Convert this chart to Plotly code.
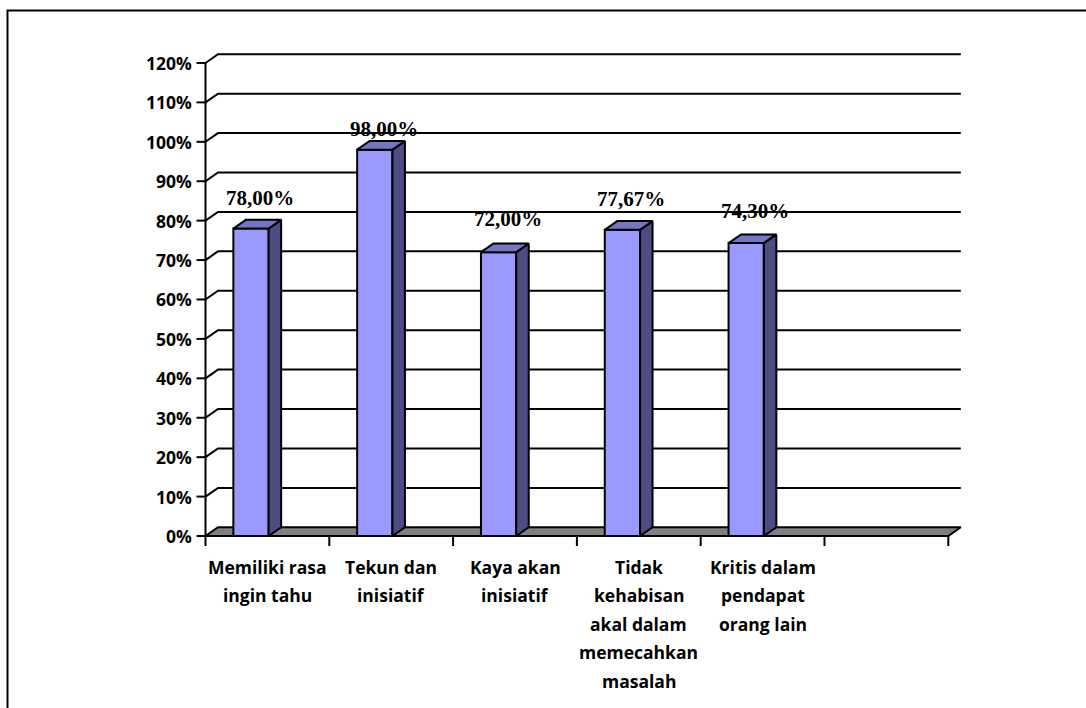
import plotly.graph_objects as go

# ---- data -------------------------------------------------------------
categories = [
    ["Memiliki rasa", "ingin tahu"],
    ["Tekun dan", "inisiatif"],
    ["Kaya akan", "inisiatif"],
    ["Tidak", "kehabisan", "akal dalam", "memecahkan", "masalah"],
    ["Kritis dalam", "pendapat", "orang lain"],
]
values = [78.00, 98.00, 72.00, 77.67, 74.30]
value_labels = ["78,00%", "98,00%", "72,00%", "77,67%", "74,30%"]
y_ticks = [0, 10, 20, 30, 40, 50, 60, 70, 80, 90, 100, 110, 120]
y_tick_labels = [f"{t}%" for t in y_ticks]
n_slots = 6  # category slots on the axis (last one is empty)

# ---- geometry of the pseudo-3D frame (axis units) --------------------
W, H = 1086, 708
ORIGIN_X, ORIGIN_Y = 205.5, 536.0      # front origin, pixels
SLOT_PX, PCT_PX = 123.8, 3.942         # pixels per category / per percent
DX = 12.5 / SLOT_PX                    # depth offset along x
DY = 8.7 / PCT_PX                      # depth offset along y
BAR_L, BAR_R = 0.225, 0.51             # front face extent inside a slot
TICK_X = 9.0 / SLOT_PX
TICK_Y = 10.0 / PCT_PX

x_range = [(0 - ORIGIN_X) / SLOT_PX, (W - ORIGIN_X) / SLOT_PX]
y_range = [(ORIGIN_Y - H) / PCT_PX, ORIGIN_Y / PCT_PX]

FRONT = "#9999FF"
TOP = "#7575C6"
SIDE = "#4D4D84"
FLOOR = "#808080"
INK = "black"
SANS = "Open Sans"

fig = go.Figure()


def line_trace(xs, ys, width=2):
    fig.add_trace(go.Scatter(x=xs, y=ys, mode="lines",
                             line=dict(color=INK, width=width),
                             hoverinfo="skip", showlegend=False))


def poly_trace(xs, ys, color):
    fig.add_trace(go.Scatter(x=xs, y=ys, mode="lines", fill="toself",
                             fillcolor=color, line=dict(color=INK, width=2),
                             hoverinfo="skip", showlegend=False))


# gridlines along the side wall and the back wall
gx, gy = [], []
for t in y_ticks[1:]:
    gx += [0, DX, n_slots + DX, None]
    gy += [t, t + DY, t + DY, None]
line_trace(gx, gy)

# floor
poly_trace([0, n_slots, n_slots + DX, DX, 0], [0, 0, DY, DY, 0], FLOOR)

# front value axis with ticks
line_trace([0, 0], [0, y_ticks[-1]])
tx, ty = [], []
for t in y_ticks:
    tx += [-TICK_X, 0, None]
    ty += [t, t, None]
line_trace(tx, ty)

# front category axis ticks
cx, cy = [], []
for i in range(n_slots + 1):
    cx += [i, i, None]
    cy += [0, -TICK_Y, None]
line_trace(cx, cy)

# bars: front, side and top faces
fx, fy, sx, sy, px_, py_ = [], [], [], [], [], []
for i, v in enumerate(values):
    x0, x1 = i + BAR_L, i + BAR_R
    fx += [x0, x1, x1, x0, x0, None]
    fy += [0, 0, v, v, 0, None]
    sx += [x1, x1 + DX, x1 + DX, x1, x1, None]
    sy += [0, DY, v + DY, v, 0, None]
    px_ += [x0, x1, x1 + DX, x0 + DX, x0, None]
    py_ += [v, v, v + DY, v + DY, v, None]
poly_trace(fx, fy, FRONT)
poly_trace(sx, sy, SIDE)
poly_trace(px_, py_, TOP)

annotations = []

# value labels above the bars
for i, (v, lab) in enumerate(zip(values, value_labels)):
    annotations.append(dict(
        x=i + 0.44, y=17.25 + 0.878 * v, text=f"<b>{lab}</b>",
        showarrow=False, xanchor="center", yanchor="middle",
        font=dict(family="Liberation Serif", size=21, color=INK)))

# value axis labels
for t, lab in zip(y_ticks, y_tick_labels):
    annotations.append(dict(
        x=(193.5 - ORIGIN_X) / SLOT_PX, y=t, text=f"<b>{lab}</b>",
        showarrow=False, xanchor="right", yanchor="middle",
        font=dict(family=SANS, size=17.5, color=INK)))

# category labels, one line at a time
LINE_PX = 28.5
for i, lines in enumerate(categories):
    for k, txt in enumerate(lines):
        annotations.append(dict(
            x=i + 0.5, y=(ORIGIN_Y - (566.5 + k * LINE_PX)) / PCT_PX,
            text=f"<b>{txt}</b>", showarrow=False,
            xanchor="center", yanchor="middle",
            font=dict(family=SANS, size=17.5, color=INK)))

fig.update_layout(
    width=W, height=H, autosize=False,
    margin=dict(l=0, r=0, t=0, b=0),
    paper_bgcolor="white", plot_bgcolor="white",
    xaxis=dict(range=x_range, visible=False, fixedrange=True),
    yaxis=dict(range=y_range, visible=False, fixedrange=True),
    annotations=annotations,
    shapes=[dict(type="rect", xref="paper", yref="paper",
                 x0=7.5 / W, x1=1.05, y0=-0.05, y1=1 - 10.5 / H,
                 line=dict(color=INK, width=2))],
    showlegend=False,
)

fig.write_html("out.html")
